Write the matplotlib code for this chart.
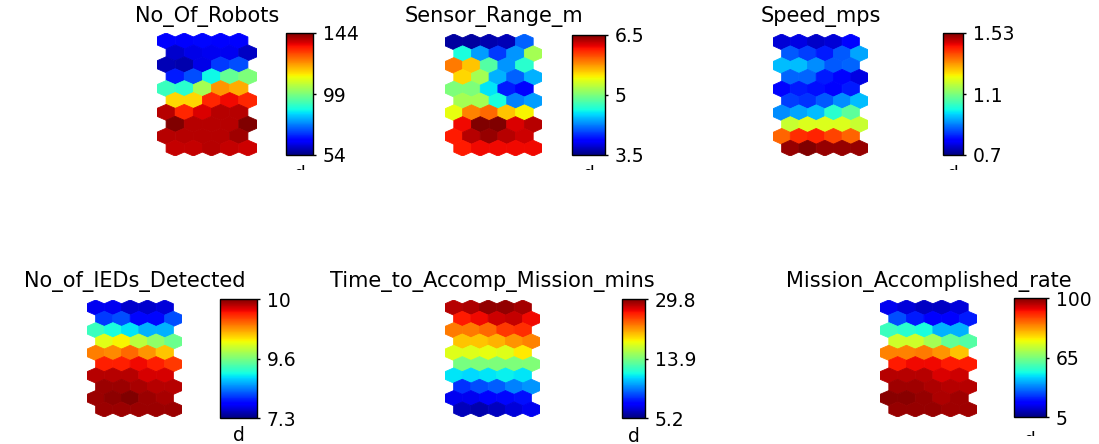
import matplotlib
matplotlib.use("Agg")
import matplotlib.pyplot as plt
from matplotlib.collections import PolyCollection
from matplotlib.colors import TwoSlopeNorm
from matplotlib.transforms import Bbox

W, H = 1099, 444

titles = ["No_Of_Robots", "Sensor_Range_m", "Speed_mps",
          "No_of_IEDs_Detected", "Time_to_Accomp_Mission_mins",
          "Mission_Accomplished_rate"]

# 10 rows x 5 columns of SOM units, top row first
no_of_robots = [
    [64.8, 64.8, 65.7, 64.8, 63.9],
    [60.3, 62.1, 63.0, 63.0, 59.4],
    [58.5, 57.6, 62.1, 70.2, 72.0],
    [67.5, 72.0, 87.3, 96.3, 99.0],
    [91.8, 90.0, 103.5, 121.5, 119.7],
    [115.2, 115.2, 132.3, 135.0, 132.3],
    [139.5, 132.3, 136.8, 139.5, 139.5],
    [144.0, 139.5, 139.5, 139.5, 144.0],
    [139.5, 139.5, 139.5, 139.5, 141.3],
    [138.6, 138.6, 139.5, 138.6, 137.7],
]
sensor_range_m = [
    [3.59, 3.59, 3.62, 3.65, 4.16],
    [4.64, 4.34, 4.04, 4.31, 5.15],
    [5.84, 5.60, 4.85, 4.31, 4.70],
    [5.54, 5.15, 4.40, 4.16, 4.40],
    [5.00, 5.00, 4.55, 3.95, 3.86],
    [5.15, 5.15, 4.64, 4.25, 4.34],
    [5.39, 5.81, 5.90, 5.60, 5.45],
    [6.20, 6.50, 6.50, 6.26, 6.35],
    [6.14, 6.35, 6.44, 6.35, 6.29],
    [6.14, 6.20, 6.20, 6.20, 6.20],
]
speed_mps = [
    [0.76, 0.77, 0.75, 0.76, 0.80],
    [0.87, 0.85, 0.82, 0.87, 0.93],
    [0.95, 0.95, 0.91, 0.87, 0.88],
    [0.88, 0.88, 0.82, 0.80, 0.77],
    [0.80, 0.82, 0.81, 0.80, 0.82],
    [0.85, 0.84, 0.87, 0.91, 0.95],
    [0.91, 0.93, 0.95, 1.02, 1.07],
    [1.18, 1.20, 1.20, 1.20, 1.18],
    [1.36, 1.41, 1.42, 1.39, 1.36],
    [1.51, 1.53, 1.51, 1.51, 1.51],
]
ieds_detected = [
    [7.76, 7.76, 7.62, 7.62, 7.67],
    [8.13, 8.22, 7.90, 7.90, 8.22],
    [9.23, 9.05, 8.91, 8.68, 8.68],
    [9.70, 9.72, 9.66, 9.62, 9.51],
    [9.82, 9.81, 9.84, 9.80, 9.76],
    [9.90, 9.90, 9.92, 9.90, 9.88],
    [9.96, 9.96, 9.96, 9.94, 9.94],
    [9.98, 9.98, 9.97, 9.96, 9.96],
    [9.98, 9.99, 10.0, 9.98, 9.97],
    [9.98, 9.98, 9.98, 9.98, 9.98],
]
time_to_mission = [
    [28.2, 28.5, 29.2, 29.2, 28.8],
    [26.0, 26.6, 27.6, 27.9, 26.6],
    [22.8, 22.8, 23.4, 25.0, 25.4],
    [20.3, 20.3, 20.9, 21.9, 22.5],
    [17.7, 17.7, 18.0, 17.7, 19.0],
    [13.8, 13.9, 13.9, 14.0, 14.1],
    [11.3, 11.1, 11.3, 11.5, 11.3],
    [8.2, 8.7, 9.0, 9.6, 9.9],
    [6.9, 6.9, 7.3, 7.5, 7.6],
    [6.1, 5.9, 6.2, 6.6, 6.9],
]
mission_rate = [
    [17.0, 14.6, 12.2, 12.2, 14.6],
    [29.0, 23.0, 19.4, 19.4, 23.0],
    [55.4, 53.0, 50.6, 41.0, 41.0],
    [72.0, 72.0, 68.5, 61.4, 59.0],
    [83.9, 83.9, 84.6, 82.5, 79.0],
    [91.6, 93.0, 93.0, 91.6, 91.6],
    [96.5, 96.5, 96.5, 94.4, 95.1],
    [97.9, 97.9, 97.2, 96.5, 96.5],
    [99.3, 99.3, 98.6, 97.2, 97.9],
    [98.6, 98.6, 98.6, 97.9, 97.9],
]

planes = [no_of_robots, sensor_range_m, speed_mps,
          ieds_detected, time_to_mission, mission_rate]

cbar_ticks = [(54, 99, 144), (3.5, 5, 6.5), (0.7, 1.1, 1.53),
              (7.3, 9.6, 10), (5.2, 13.9, 29.8), (5, 65, 100)]
cbar_labels = [("54", "99", "144"), ("3.5", "5", "6.5"), ("0.7", "1.1", "1.53"),
               ("7.3", "9.6", "10"), ("5.2", "13.9", "29.8"), ("5", "65", "100")]

# pixel boxes (left, top, right, bottom)
map_boxes = [(157, 33, 257, 156), (445, 34, 542, 156), (773, 34, 868, 156),
             (87, 300, 182, 417), (445, 300, 540, 417), (880, 300, 977, 417)]
cbar_boxes = [(286, 33, 313, 155), (572, 35, 605, 155), (943, 33, 963, 155),
              (220, 299, 257, 418), (622, 299, 645, 418), (1014, 298, 1046, 417)]
title_y = [22, 22, 22, 287, 287, 287]
d_y = [180, 180, 180, 441, 442, 446]
d_clip = [170, 170, 170, 444, 444, 436]

FONT = "DejaVu Sans"
FS = 13.5
TITLE_FS = 15


def rect(box):
    l, t, r, b = box
    return [l / W, 1 - b / H, (r - l) / W, (b - t) / H]


def hex_verts(n_rows, n_cols):
    verts = []
    for r in range(n_rows):
        for c in range(n_cols):
            cx = c + 0.5 * (r % 2)
            cy = -0.75 * r
            verts.append([(cx, cy + 0.5), (cx + 0.5, cy + 0.25), (cx + 0.5, cy - 0.25),
                          (cx, cy - 0.5), (cx - 0.5, cy - 0.25), (cx - 0.5, cy + 0.25)])
    return verts


fig = plt.figure(figsize=(W / 100, H / 100), dpi=100)

for k in range(6):
    data = planes[k]
    lo, mid, hi = cbar_ticks[k]
    norm = TwoSlopeNorm(vmin=lo, vcenter=mid, vmax=hi)
    vals = [v for row in data for v in row]

    ax = fig.add_axes(rect(map_boxes[k]))
    coll = PolyCollection(hex_verts(len(data), len(data[0])), array=vals,
                          cmap="jet", norm=norm, edgecolors="face", linewidths=0.6)
    ax.add_collection(coll)
    ax.set_xlim(-0.5, 5.0)
    ax.set_ylim(-7.25, 0.5)
    ax.axis("off")

    l, t, r, b = map_boxes[k]
    fig.text((l + r) / 2 / W, 1 - title_y[k] / H, titles[k], ha="center",
             va="baseline", fontsize=TITLE_FS, family=FONT)

    cax = fig.add_axes(rect(cbar_boxes[k]))
    cb = fig.colorbar(coll, cax=cax, ticks=[lo, mid, hi])
    cb.set_ticklabels(list(cbar_labels[k]))
    cb.outline.set_linewidth(1.0)
    cax.tick_params(length=2, width=1, pad=5, labelsize=FS)
    for lab in cax.get_yticklabels():
        lab.set_family(FONT)

    cl, ct, cr, cbm = cbar_boxes[k]
    d = fig.text((cl + cr) / 2 / W, 1 - d_y[k] / H, "d", ha="center",
                 va="baseline", fontsize=FS, family=FONT)
    d.set_clip_box(Bbox.from_extents(0, H - d_clip[k], W, H))
    d.set_clip_on(True)

fig.savefig("out.png", dpi=100)
